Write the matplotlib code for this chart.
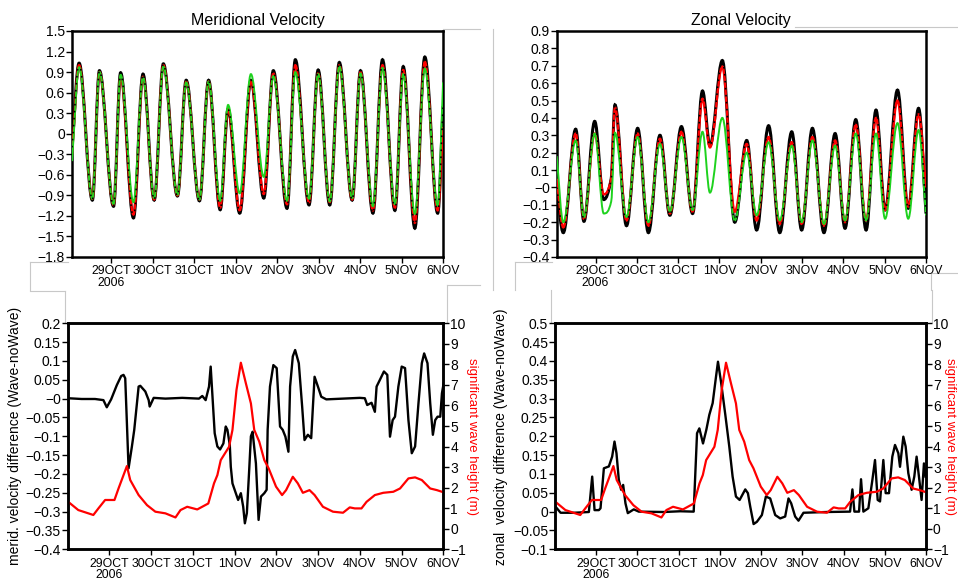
import numpy as np
import matplotlib
matplotlib.use("Agg")
import matplotlib.pyplot as plt
from matplotlib.path import Path
from matplotlib.patches import PathPatch
from matplotlib.lines import Line2D
from matplotlib.ticker import FuncFormatter

plt.rcParams['font.family'] = ['Liberation Sans', 'DejaVu Sans']

# time axis: days since 28 OCT 2006 00:00
day_ticks = [1, 2, 3, 4, 5, 6, 7, 8, 9]
day_labels = ['29OCT\n2006', '30OCT', '31OCT', '1NOV', '2NOV', '3NOV', '4NOV', '5NOV', '6NOV']

# meridional velocity: turning points of the tidal signal (black / red / green runs)
merid_t = [0.06, 0.23, 0.55, 0.72, 1.06, 1.23, 1.54, 1.77, 2.04, 2.26, 2.60, 2.81, 3.13, 3.35, 3.63, 3.82,
           4.10, 4.37, 4.68, 4.91, 5.24, 5.44, 5.77, 5.99, 6.27, 6.50, 6.81, 7.01, 7.31, 7.54, 7.84, 8.04,
           8.32, 8.56, 8.87, 9.00]
merid_black = [-0.20, 1.03, -0.97, 0.92, -1.06, 0.89, -1.23, 0.87, -0.97, 1.02, -0.91, 0.78, -0.98, 0.78, -1.11, 0.36,
               -1.16, 0.78, -0.94, 0.92, -1.09, 1.08, -1.04, 0.93, -1.04, 1.04, -0.97, 0.92, -1.16, 1.08, -1.12, 0.98,
               -1.38, 1.12, -1.16, 0.40]
merid_red = [-0.30, 1.00, -0.95, 0.90, -1.04, 0.84, -1.18, 0.83, -0.96, 1.00, -0.90, 0.76, -0.96, 0.76, -1.08, 0.36,
             -1.12, 0.77, -0.88, 0.88, -1.03, 1.00, -1.00, 0.88, -1.00, 1.00, -0.96, 0.90, -1.12, 1.00, -1.08, 0.93,
             -1.30, 1.05, -1.12, 0.10]
merid_green = [-0.40, 0.97, -0.95, 0.90, -1.03, 0.86, -1.00, 0.82, -0.94, 0.98, -0.89, 0.75, -0.96, 0.76, -0.98, 0.42,
               -0.87, 0.87, -0.63, 0.84, -0.98, 0.90, -0.95, 0.87, -0.99, 0.98, -0.94, 0.88, -1.06, 0.96, -1.03, 0.87,
               -1.17, 0.95, -1.05, 0.75]

# zonal velocity
zonal_t = [0.06, 0.22, 0.52, 0.72, 0.98, 1.20, 1.38, 1.47, 1.75, 2.02, 2.28, 2.56, 2.80, 3.08, 3.35, 3.59, 3.77,
           4.07, 4.37, 4.66, 4.90, 5.19, 5.46, 5.75, 5.99, 6.25, 6.53, 6.80, 7.04, 7.30, 7.55, 7.79, 8.01, 8.31,
           8.57, 8.82, 9.00]
zonal_black = [0.00, -0.26, 0.335, -0.195, 0.38, -0.07, 0.05, 0.475, -0.22, 0.34, -0.26, 0.30, -0.16, 0.35, -0.15,
               0.555, 0.24, 0.73, -0.20, 0.27, -0.245, 0.355, -0.26, 0.32, -0.245, 0.34, -0.26, 0.31, -0.235, 0.39,
               -0.245, 0.445, -0.13, 0.56, -0.12, 0.455, -0.15]
zonal_red = [0.05, -0.23, 0.31, -0.18, 0.31, -0.04, 0.05, 0.46, -0.19, 0.31, -0.22, 0.28, -0.15, 0.32, -0.14,
             0.51, 0.23, 0.695, -0.14, 0.25, -0.19, 0.29, -0.21, 0.26, -0.21, 0.29, -0.22, 0.27, -0.20, 0.36,
             -0.19, 0.40, -0.13, 0.50, -0.11, 0.42, 0.00]
zonal_green = [0.18, -0.20, 0.27, -0.17, 0.31, -0.15, -0.08, 0.315, -0.17, 0.29, -0.20, 0.25, -0.14, 0.29, -0.13,
               0.32, -0.03, 0.40, -0.19, 0.20, -0.16, 0.26, -0.19, 0.24, -0.20, 0.27, -0.21, 0.24, -0.19, 0.31,
               -0.19, 0.31, -0.18, 0.37, -0.18, 0.33, -0.16]

# meridional difference (wave - noWave)
mdiff_t = [0.012, 0.333, 0.655, 0.855, 0.936, 1.04, 1.177, 1.281, 1.337, 1.378, 1.418, 1.458, 1.538, 1.594, 1.659,
           1.699, 1.739, 1.859, 1.940, 1.964, 2.060, 2.341, 2.743, 3.145, 3.225, 3.305, 3.386, 3.426, 3.522, 3.586,
           3.651, 3.731, 3.787, 3.827, 3.884, 3.908, 3.948, 4.028, 4.084, 4.149, 4.205, 4.245, 4.293, 4.349, 4.390,
           4.430, 4.510, 4.574, 4.631, 4.711, 4.767, 4.791, 4.847, 4.928, 5.008, 5.088, 5.153, 5.217, 5.289, 5.329,
           5.394, 5.450, 5.538, 5.618, 5.675, 5.755, 5.835, 5.876, 5.916, 5.996, 6.076, 6.197, 6.598, 7.000, 7.120,
           7.177, 7.281, 7.361, 7.402, 7.482, 7.578, 7.659, 7.723, 7.787, 7.843, 7.924, 8.004, 8.084, 8.165, 8.245,
           8.325, 8.406, 8.486, 8.542, 8.622, 8.687, 8.751, 8.807, 8.863, 8.928, 8.968, 9.008]
mdiff = [0.001, -0.001, -0.001, -0.004, -0.023, -0.002, 0.036, 0.060, 0.063, 0.054, -0.065, -0.185, -0.127, -0.083,
         -0.012, 0.032, 0.034, 0.019, -0.004, -0.021, 0.002, 0.0, 0.002, 0.0, 0.007, -0.004, 0.032, 0.085, -0.092,
         -0.127, -0.135, -0.119, -0.074, -0.083, -0.123, -0.181, -0.225, -0.251, -0.269, -0.251, -0.287, -0.331,
         -0.304, -0.189, -0.100, -0.088, -0.172, -0.322, -0.260, -0.251, -0.242, -0.083, 0.032, 0.089, 0.081, -0.074,
         -0.083, -0.101, -0.141, 0.032, 0.112, 0.129, 0.094, -0.021, -0.110, -0.096, -0.105, -0.021, 0.058, 0.032,
         0.005, -0.002, 0.0, 0.002, 0.001, -0.017, -0.011, -0.035, 0.032, 0.050, 0.072, 0.063, -0.101, -0.057, -0.048,
         0.032, 0.085, 0.081, -0.057, -0.145, -0.127, -0.012, 0.094, 0.120, 0.094, -0.012, -0.096, -0.057, -0.048,
         -0.048, 0.014, 0.040]

# zonal difference (wave - noWave)
zdiff_t = [0.015, 0.136, 0.459, 0.822, 0.903, 0.960, 1.065, 1.105, 1.186, 1.307, 1.387, 1.444, 1.492, 1.549, 1.605,
           1.654, 1.710, 1.767, 1.912, 2.033, 2.638, 3.042, 3.365, 3.446, 3.502, 3.591, 3.671, 3.744, 3.825, 3.906,
           3.954, 4.027, 4.132, 4.228, 4.309, 4.390, 4.479, 4.616, 4.680, 4.737, 4.818, 4.898, 5.019, 5.116, 5.221,
           5.342, 5.463, 5.584, 5.665, 5.730, 5.826, 5.907, 6.028, 6.593, 7.158, 7.215, 7.263, 7.376, 7.424, 7.481,
           7.602, 7.699, 7.763, 7.828, 7.885, 7.965, 8.022, 8.102, 8.183, 8.248, 8.329, 8.369, 8.450, 8.506, 8.571,
           8.651, 8.716, 8.772, 8.829, 8.893, 8.950, 8.990]
zdiff = [0.013, -0.003, -0.003, -0.001, 0.093, 0.004, 0.004, 0.009, 0.115, 0.120, 0.146, 0.186, 0.155, 0.084, 0.058,
         0.071, 0.022, -0.004, 0.006, 0.0, -0.001, 0.001, 0.0, 0.208, 0.221, 0.181, 0.217, 0.257, 0.288, 0.358, 0.398,
         0.345, 0.257, 0.173, 0.093, 0.040, 0.031, 0.059, 0.049, 0.013, -0.033, -0.027, -0.009, 0.040, 0.035, -0.009,
         -0.018, -0.013, 0.035, 0.022, -0.013, -0.024, -0.003, -0.001, 0.0, 0.059, 0.0, 0.0, 0.086, 0.0, 0.009, 0.084,
         0.137, 0.031, 0.027, 0.137, 0.049, 0.049, 0.146, 0.177, 0.155, 0.119, 0.199, 0.173, 0.102, 0.058, 0.093,
         0.146, 0.093, 0.031, 0.128, 0.093]

# significant wave height (m)
hs_t = [0.012, 0.253, 0.614, 0.735, 0.896, 1.120, 1.217, 1.418, 1.498, 1.699, 1.900, 2.100, 2.341, 2.582, 2.703,
        2.863, 3.104, 3.369, 3.506, 3.586, 3.667, 3.867, 3.948, 4.044, 4.149, 4.269, 4.390, 4.470, 4.590, 4.711,
        4.815, 4.992, 5.137, 5.233, 5.394, 5.514, 5.635, 5.795, 5.916, 6.116, 6.357, 6.598, 6.759, 6.880, 7.040,
        7.161, 7.361, 7.562, 7.803, 7.964, 8.165, 8.325, 8.486, 8.687, 8.847, 8.968]
hs_m = [1.31, 0.91, 0.67, 0.99, 1.40, 1.40, 1.96, 3.05, 2.37, 1.64, 1.15, 0.83, 0.75, 0.55, 0.91, 1.07, 0.94, 1.23,
        2.21, 2.61, 3.34, 3.99, 4.81, 6.75, 8.08, 7.08, 6.10, 4.81, 4.24, 3.34, 2.94, 2.05, 1.64, 1.88, 2.53, 2.21,
        1.75, 1.88, 1.64, 1.07, 0.83, 0.78, 1.04, 0.99, 0.99, 1.31, 1.64, 1.75, 1.80, 1.96, 2.45, 2.50, 2.37, 1.96,
        1.88, 1.80]

GREEN = '#1ed21e'


def num_fmt(v, pos):
    s = '%g' % round(v, 3)
    return s.replace('-', '\u2212')


def tide_path(t, v):
    # smooth curve through the read points: flat at turning points,
    # sloped through shoulders and at the open ends
    n = len(t)
    slopes = []
    for i in range(n):
        if i == 0:
            slopes.append((v[1] - v[0]) / (t[1] - t[0]))
        elif i == n - 1:
            slopes.append((v[-1] - v[-2]) / (t[-1] - t[-2]))
        elif (v[i] - v[i - 1]) * (v[i + 1] - v[i]) > 0:
            slopes.append(0.6 * (v[i + 1] - v[i - 1]) / (t[i + 1] - t[i - 1]))
        else:
            slopes.append(0.0)
    verts = [(t[0], v[0])]
    codes = [Path.MOVETO]
    for i in range(n - 1):
        h = 0.36 * (t[i + 1] - t[i])
        verts += [(t[i] + h, v[i] + slopes[i] * h),
                  (t[i + 1] - h, v[i + 1] - slopes[i + 1] * h),
                  (t[i + 1], v[i + 1])]
        codes += [Path.CURVE4] * 3
    return Path(verts, codes)


def style_axes(ax, ylo, yhi, step, xlo):
    ax.set_xlim(xlo, 9.0)
    ax.set_ylim(ylo, yhi)
    ax.set_yticks(np.arange(ylo, yhi + step / 2, step))
    ax.yaxis.set_major_formatter(FuncFormatter(num_fmt))
    ax.set_xticks(day_ticks)
    ax.set_xticklabels(day_labels, fontsize=8.8, linespacing=0.95)
    ax.tick_params(axis='y', direction='out', length=4, width=1, labelsize=10, pad=1)
    ax.tick_params(axis='x', direction='out', length=4, width=1, pad=2)
    for sp in ax.spines.values():
        sp.set_linewidth(1.8)


def velocity_panel(ax, t, black, red, green):
    ax.add_patch(PathPatch(tide_path(t, black), fill=False, ec='black', lw=2.2, zorder=2))
    ax.add_patch(PathPatch(tide_path(t, red), fill=False, ec='red', lw=1.7, zorder=3))
    ax.add_patch(PathPatch(tide_path(t, green), fill=False, ec=GREEN, lw=1.4, zorder=4))
    ax.add_patch(PathPatch(tide_path(t, black), fill=False, ec='black', lw=1.2,
                           ls=(0, (1.0, 3.2)), zorder=5))


fig = plt.figure(figsize=(9.58, 5.83), dpi=100)

ax_m = fig.add_axes([0.0752, 0.5592, 0.3873, 0.3877])
ax_z = fig.add_axes([0.5811, 0.5592, 0.3855, 0.3877])
ax_md = fig.add_axes([0.0707, 0.0578, 0.3920, 0.3877])
ax_zd = fig.add_axes([0.5793, 0.0578, 0.3873, 0.3877])

velocity_panel(ax_m, merid_t, merid_black, merid_red, merid_green)
style_axes(ax_m, -1.8, 1.5, 0.3, 0.06)
ax_m.set_title('Meridional Velocity', fontsize=11.5, pad=4)

velocity_panel(ax_z, zonal_t, zonal_black, zonal_red, zonal_green)
style_axes(ax_z, -0.4, 0.9, 0.1, 0.06)
ax_z.set_title('Zonal Velocity', fontsize=11.5, pad=4)

for ax, t, d, lo, hi, lab, lx, rx in [
        (ax_md, mdiff_t, mdiff, -0.4, 0.2, 'merid. velocity difference (Wave-noWave)', -0.122, 1.092),
        (ax_zd, zdiff_t, zdiff, -0.1, 0.5, 'zonal  velocity difference (Wave-noWave)', -0.127, 1.082)]:
    ax.plot(t, d, color='black', lw=1.7, zorder=3)
    style_axes(ax, lo, hi, 0.05, 0.0)
    ax.set_ylabel(lab, fontsize=10)
    ax.yaxis.set_label_coords(lx, 0.5)
    ax2 = ax.twinx()
    ax2.plot(hs_t, hs_m, color='red', lw=1.6)
    ax2.set_ylim(-1, 10)
    ax2.set_yticks(range(-1, 11))
    ax2.yaxis.set_major_formatter(FuncFormatter(num_fmt))
    ax2.tick_params(axis='y', direction='out', length=4, width=1, labelsize=10, pad=1)
    for sp in ax2.spines.values():
        sp.set_linewidth(1.8)
    ax2.set_ylabel('significant wave height (m)', color='red', fontsize=9.5, rotation=270)
    ax2.yaxis.set_label_coords(rx, 0.5)

# faint frame lines left over from the composed figure
frame_lines = [
    ([443, 480], [29, 29]), ([30, 68], [262, 262]), ([30, 30], [262, 290]), ([447, 480], [285, 285]),
    ([493, 493], [29, 290]), ([795, 958], [27, 27]), ([515, 552], [262, 262]), ([515, 515], [262, 290]),
    ([931, 958], [273, 273]), ([931, 931], [273, 290]),
    ([30, 65], [291, 291]), ([65, 65], [291, 322]), ([447, 447], [285, 322]),
    ([551, 551], [290, 322]), ([932, 932], [290, 322]),
]
for xs, ys in frame_lines:
    fig.add_artist(Line2D([x / 958 for x in xs], [1 - y / 583 for y in ys], transform=fig.transFigure,
                          color='#c8c8c8', lw=0.8, zorder=0))

fig.savefig('out.png', dpi=100)
